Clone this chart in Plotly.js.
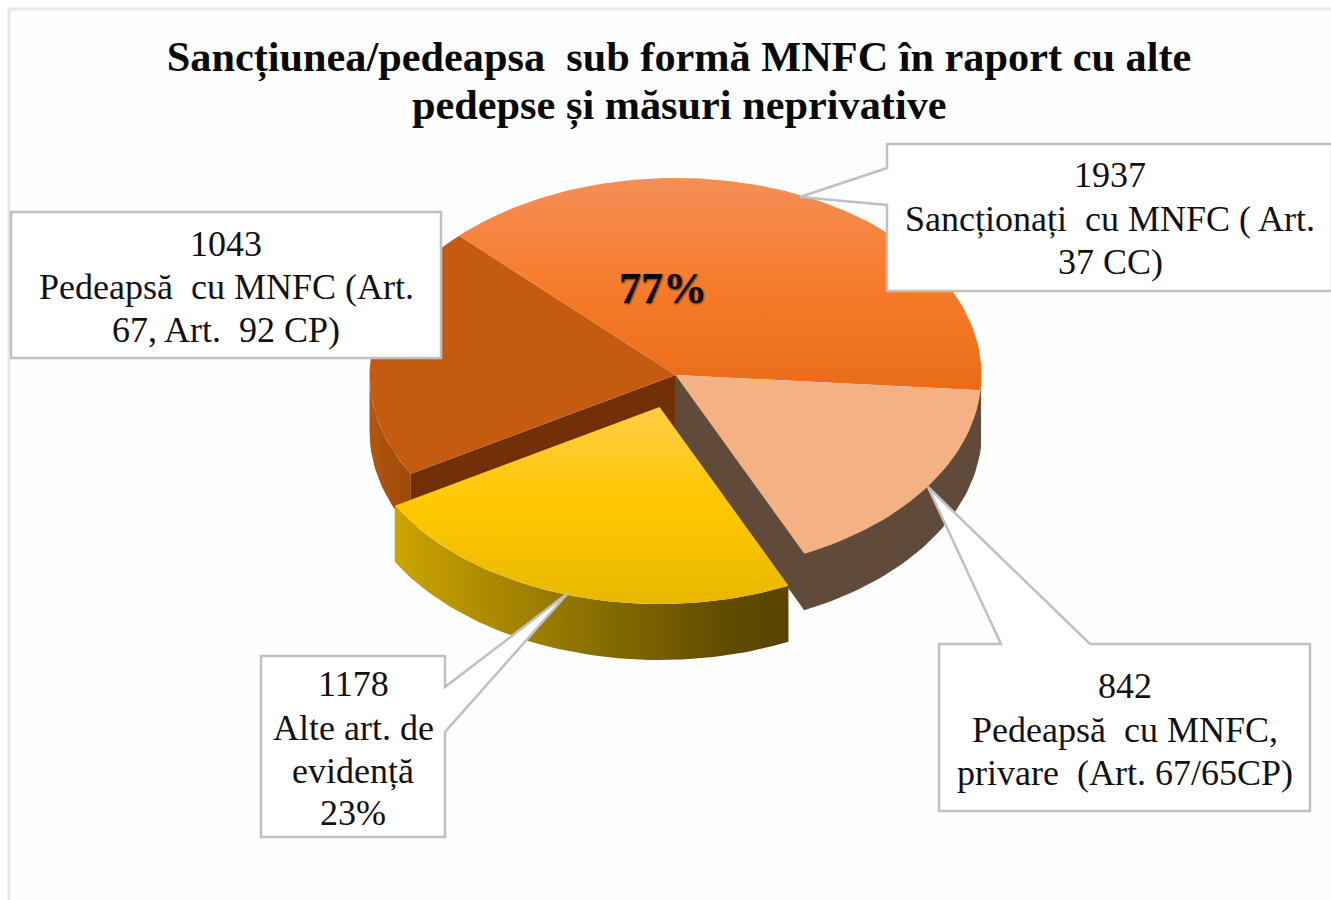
<!DOCTYPE html>
<html>
<head>
<meta charset="utf-8">
<script src="https://cdn.plot.ly/plotly-3.0.1.min.js"></script>
<style>html,body{margin:0;padding:0;background:#fff}#c{width:1331px;height:900px}</style>
</head>
<body>
<div id="c"></div>
<script>
// ---- data ----
const categories = ["Sancționați cu MNFC ( Art. 37 CC)", "Pedeapsă cu MNFC, privare (Art. 67/65CP)", "Alte art. de evidență", "Pedeapsă cu MNFC (Art. 67, Art. 92 CP)"];
const values = [1937, 842, 1178, 1043];
const titleLines = ["Sancțiunea/pedeapsa\u00a0 sub formă MNFC în raport cu alte", "pedepse și măsuri neprivative"];
const labelSanct = ["Sancționați\u00a0 cu MNFC ( Art.", "37 CC)"];
const labelPrivare = ["Pedeapsă\u00a0 cu MNFC,", "privare\u00a0 (Art. 67/65CP)"];
const labelAlte = ["Alte art. de", "evidență"];
const labelPedeapsa = ["Pedeapsă\u00a0 cu MNFC (Art.", "67, Art.\u00a0 92 CP)"];
const bigShare = "77%";
const smallShare = "23%";

// ---- pie geometry in axis units (axes span the page in pixels) ----
const C = {x: 675.5, y: 375, rx: 306, ry: 197, depth: 56, start: 315};
const YEL = {dx: -16, dy: 32};
const total = values.reduce((a, b) => a + b, 0);
let acc = C.start;
const spans = values.map(v => { const a = acc, b = acc + v / total * 360; acc = b; return [a, b]; });
const rim = (deg, cx, cy) => {
  const t = deg * Math.PI / 180;
  return [cx + C.rx * Math.sin(t), cy - C.ry * Math.cos(t)];
};
function arc(a, b, cx, cy) {
  const n = Math.max(8, Math.ceil(Math.abs(b - a) / 1.5)), pts = [];
  for (let i = 0; i <= n; i++) pts.push(rim(a + (b - a) * i / n, cx, cy));
  return pts;
}
function poly(pts, fill) {
  const tr = {
    type: "scatter", mode: "lines", hoverinfo: "skip", showlegend: false,
    x: pts.map(p => p[0]), y: pts.map(p => p[1]),
    line: {width: 0}, fill: "toself"
  };
  Object.assign(tr, fill);
  return tr;
}
const wedge = (s, cx, cy, fill) => poly([[cx, cy], ...arc(s[0], s[1], cx, cy), [cx, cy]], fill);
function wall(a, b, cx, cy, fill) {
  const top = arc(a, b, cx, cy);
  const bot = top.map(p => [p[0], p[1] + C.depth]).reverse();
  return poly([...top, ...bot, top[0]], fill);
}
function radial(s, cx, cy, fill) {
  const p = rim(s, cx, cy);
  return poly([[cx, cy], p, [p[0], p[1] + C.depth], [cx, cy + C.depth], [cx, cy]], fill);
}
const solid = c => ({fillcolor: c});
const seamless = c => ({fillcolor: c, line: {width: 1, color: c}});
const grad = (type, stops, start, stop) => ({fillgradient: {type, colorscale: stops, start, stop}});

const [sO, sP, sY, sD] = spans;
const yx = C.x + YEL.dx, yy = C.y + YEL.dy;

const traces = [
  // dark-orange slice walls (visible part of the rim: lower left, up to due west)
  wall(sD[0], 630, C.x, C.y, grad("horizontal", [[0, "#b3560f"], [1, "#9c480a"]], 370, 412)),
  radial(sD[0], C.x, C.y, solid("#723008")),
  // peach slice walls
  wall(sP[0], sP[1], C.x, C.y, seamless("#604a39")),
  radial(sP[1], C.x, C.y, seamless("#604a39")),
  // top faces
  wedge(sD, C.x, C.y, solid("#c55a11")),
  wedge(sO, C.x, C.y, grad("vertical", [[0, "#f58e55"], [0.55, "#f67a28"], [1, "#e86c18"]], 178, 392)),
  wedge(sP, C.x, C.y, solid("#f4b183")),
  // pulled-out yellow slice
  wall(sY[0], sY[1], yx, yy, grad("horizontal", [[0, "#cba400"], [0.5, "#8a6f00"], [0.85, "#604a00"], [1, "#584400"]], 395, 789)),
  wedge(sY, yx, yy, grad("vertical", [[0, "#ffcd45"], [0.5, "#ffc800"], [1, "#e8b800"]], 407, 603))
];

const BORDER = "#c0c0c0";
const path = pts => "M" + pts.map(p => p.join(",")).join("L") + "Z";
const box = pts => ({type: "path", xref: "x", yref: "y", layer: "above", path: path(pts),
  fillcolor: "#ffffff", line: {color: BORDER, width: 2.5}});

const shapes = [
  // frame of the slide
  {type: "rect", xref: "x", yref: "y", layer: "below", x0: 9, y0: 9, x1: 1345, y1: 950,
   fillcolor: "#fefefe", line: {color: "#e3e7ee", width: 3}},
  box([[887, 144], [1332, 144], [1332, 291], [887, 291], [887, 205], [800, 197], [887, 168]]),
  box([[11, 212], [441, 212], [441, 358], [11, 358]]),
  box([[261, 656], [445, 656], [445, 687], [568, 593], [445, 732], [445, 837], [261, 837]]),
  box([[939, 644], [1001, 644], [928, 487], [1090, 644], [1310, 644], [1310, 811], [939, 811]])
];

const F = "'Liberation Serif','Times New Roman',serif";
const line = (x, y, text) => ({xref: "x", yref: "y", x, y, text: String(text), showarrow: false,
  xanchor: "center", yanchor: "middle", align: "center",
  font: {family: F, size: 36, color: "#111111"}});
const stack = (x, ys, lines) => lines.map((t, i) => line(x, ys[i], t));

const annotations = [
  ...stack(1110, [175, 219, 262], [values[0], ...labelSanct]),
  ...stack(226, [244, 287, 330], [values[3], ...labelPedeapsa]),
  ...stack(353, [684, 728, 771, 813], [values[2], ...labelAlte, smallShare]),
  ...stack(1124.5, [686, 730, 773], [values[1], ...labelPrivare]),
  {xref: "x", yref: "y", x: 679, y: 105, text: "<b>" + titleLines[1] + "</b>", showarrow: false,
   xanchor: "center", yanchor: "middle", font: {family: F, size: 42.3, color: "#0a0a0a"}},
  {xref: "x", yref: "y", x: 663, y: 288, text: "<b>" + bigShare + "</b>", showarrow: false,
   xanchor: "center", yanchor: "middle",
   font: {family: F, size: 44, color: "#0a0a0a", shadow: "1px 1px 2px #5a3010"}}
];

const layout = {
  width: 1331, height: 900,
  margin: {l: 0, r: 0, t: 0, b: 0},
  paper_bgcolor: "#ffffff", plot_bgcolor: "rgba(0,0,0,0)",
  showlegend: false,
  title: {text: "<b>" + titleLines[0] + "</b>", x: 679 / 1331, xanchor: "center",
          y: 1 - 56 / 900, yanchor: "middle", font: {family: F, size: 42.3, color: "#0a0a0a"}},
  xaxis: {range: [0, 1331], visible: false, fixedrange: true},
  yaxis: {range: [900, 0], visible: false, fixedrange: true},
  shapes, annotations
};
Plotly.newPlot("c", traces, layout, {displayModeBar: false, staticPlot: true});
</script>
</body>
</html>
